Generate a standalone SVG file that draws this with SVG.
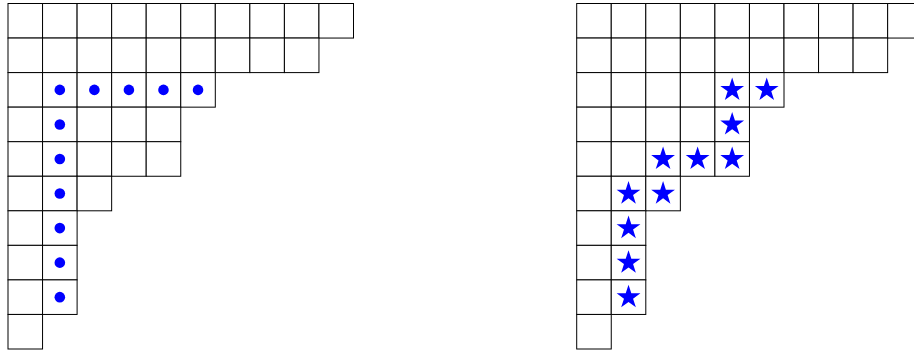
<svg xmlns="http://www.w3.org/2000/svg" xmlns:xlink="http://www.w3.org/1999/xlink" width="914" height="350" viewBox="0 0 914 350">
<style>
.c{fill:#fff;stroke:#000;stroke-width:1}
.m{fill:#0000ff}
</style>
<defs>
<rect id="cell" class="c" width="34.55" height="34.55"/>
<circle id="dot" class="m" r="5.3"/>
<path id="star" class="m" d="M0,-12.5 L2.807,-3.863 L11.888,-3.863 L4.541,1.476 L7.347,10.113 L0,4.775 L-7.347,10.113 L-4.541,1.476 L-11.888,-3.863 L-2.807,-3.863 Z"/>
<g id="shape">
<use xlink:href="#cell" x="0" y="0"/><use xlink:href="#cell" x="34.55" y="0"/><use xlink:href="#cell" x="69.1" y="0"/><use xlink:href="#cell" x="103.65" y="0"/><use xlink:href="#cell" x="138.2" y="0"/><use xlink:href="#cell" x="172.75" y="0"/><use xlink:href="#cell" x="207.3" y="0"/><use xlink:href="#cell" x="241.85" y="0"/><use xlink:href="#cell" x="276.4" y="0"/><use xlink:href="#cell" x="310.95" y="0"/>
<use xlink:href="#cell" x="0" y="34.55"/><use xlink:href="#cell" x="34.55" y="34.55"/><use xlink:href="#cell" x="69.1" y="34.55"/><use xlink:href="#cell" x="103.65" y="34.55"/><use xlink:href="#cell" x="138.2" y="34.55"/><use xlink:href="#cell" x="172.75" y="34.55"/><use xlink:href="#cell" x="207.3" y="34.55"/><use xlink:href="#cell" x="241.85" y="34.55"/><use xlink:href="#cell" x="276.4" y="34.55"/>
<use xlink:href="#cell" x="0" y="69.1"/><use xlink:href="#cell" x="34.55" y="69.1"/><use xlink:href="#cell" x="69.1" y="69.1"/><use xlink:href="#cell" x="103.65" y="69.1"/><use xlink:href="#cell" x="138.2" y="69.1"/><use xlink:href="#cell" x="172.75" y="69.1"/>
<use xlink:href="#cell" x="0" y="103.65"/><use xlink:href="#cell" x="34.55" y="103.65"/><use xlink:href="#cell" x="69.1" y="103.65"/><use xlink:href="#cell" x="103.65" y="103.65"/><use xlink:href="#cell" x="138.2" y="103.65"/>
<use xlink:href="#cell" x="0" y="138.2"/><use xlink:href="#cell" x="34.55" y="138.2"/><use xlink:href="#cell" x="69.1" y="138.2"/><use xlink:href="#cell" x="103.65" y="138.2"/><use xlink:href="#cell" x="138.2" y="138.2"/>
<use xlink:href="#cell" x="0" y="172.75"/><use xlink:href="#cell" x="34.55" y="172.75"/><use xlink:href="#cell" x="69.1" y="172.75"/>
<use xlink:href="#cell" x="0" y="207.3"/><use xlink:href="#cell" x="34.55" y="207.3"/>
<use xlink:href="#cell" x="0" y="241.85"/><use xlink:href="#cell" x="34.55" y="241.85"/>
<use xlink:href="#cell" x="0" y="276.4"/><use xlink:href="#cell" x="34.55" y="276.4"/>
<use xlink:href="#cell" x="0" y="310.95"/>
</g>
</defs>
<g id="left-diagram" transform="translate(8,3.5)">
<use xlink:href="#shape"/>
<g id="dots">
<use xlink:href="#dot" x="51.825" y="86.375"/><use xlink:href="#dot" x="86.375" y="86.375"/><use xlink:href="#dot" x="120.925" y="86.375"/><use xlink:href="#dot" x="155.475" y="86.375"/><use xlink:href="#dot" x="190.025" y="86.375"/>
<use xlink:href="#dot" x="51.825" y="120.925"/><use xlink:href="#dot" x="51.825" y="155.475"/><use xlink:href="#dot" x="51.825" y="190.025"/><use xlink:href="#dot" x="51.825" y="224.575"/><use xlink:href="#dot" x="51.825" y="259.125"/><use xlink:href="#dot" x="51.825" y="293.675"/>
</g>
</g>
<g id="right-diagram" transform="translate(576.7,3.5)">
<use xlink:href="#shape"/>
<g id="stars">
<use xlink:href="#star" x="155.475" y="86.375"/><use xlink:href="#star" x="190.025" y="86.375"/>
<use xlink:href="#star" x="155.475" y="120.925"/>
<use xlink:href="#star" x="86.375" y="155.475"/><use xlink:href="#star" x="120.925" y="155.475"/><use xlink:href="#star" x="155.475" y="155.475"/>
<use xlink:href="#star" x="51.825" y="190.025"/><use xlink:href="#star" x="86.375" y="190.025"/>
<use xlink:href="#star" x="51.825" y="224.575"/><use xlink:href="#star" x="51.825" y="259.125"/><use xlink:href="#star" x="51.825" y="293.675"/>
</g>
</g>
</svg>
